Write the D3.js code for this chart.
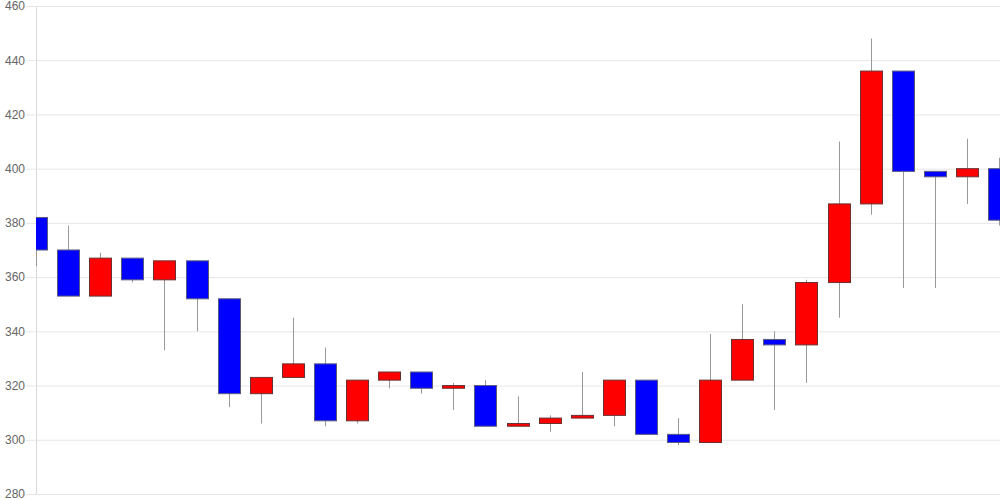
<!DOCTYPE html>
<meta charset="utf-8">
<style>
body { margin: 0; background: white; }
svg { display: block; font-family: "Liberation Sans", Arial, sans-serif; }
</style>
<body>
<script src="https://d3js.org/d3.v7.min.js"></script>
<script>
// daily candles, oldest first
var opens  = [382, 370, 353, 367, 359, 366, 352, 317, 323, 328, 307, 322, 325, 319, 320, 305, 306, 308, 309, 322, 302, 299, 322, 337, 335, 358, 387, 436, 399, 397, 400]
var highs  = [382, 379, 369, 367, 366, 366, 352, 323, 345, 334, 322, 325, 325, 321, 322, 316, 309, 325, 322, 322, 308, 339, 350, 340, 359, 410, 448, 436, 399, 411, 404]
var lows   = [364, 353, 353, 358, 333, 340, 312, 306, 323, 305, 306, 319, 317, 311, 305, 305, 303, 308, 305, 302, 298, 299, 322, 311, 321, 345, 383, 356, 356, 387, 379]
var closes = [370, 353, 367, 359, 366, 352, 317, 323, 328, 307, 322, 325, 319, 320, 305, 306, 308, 309, 322, 302, 299, 322, 337, 335, 358, 387, 436, 399, 397, 400, 381]
var yTicks = [280, 300, 320, 340, 360, 380, 400, 420, 440, 460]

var width = 1000
var height = 500
var plotLeft = 36, plotRight = 1000, plotTop = 6, plotBottom = 494

var candles = opens.map(function (o, i) {
    return { i: i, o: o, h: highs[i], l: lows[i], c: closes[i] }
})

var x = d3.scaleLinear().domain([0, candles.length - 1]).range([plotLeft, plotRight - 1])
var y = d3.scaleLinear().domain([280, 460]).range([plotBottom, plotTop])

var svg = d3.select('body').append('svg')
    .attr('width', width)
    .attr('height', height)

svg.append('defs').append('clipPath').attr('id', 'plot')
    .append('rect')
    .attr('x', plotLeft).attr('y', plotTop)
    .attr('width', plotRight - plotLeft).attr('height', plotBottom - plotTop)

// y axis with gridlines
var yAxis = svg.append('g')
    .attr('transform', 'translate(' + plotLeft + ',0)')
    .call(d3.axisLeft(y).tickValues(yTicks).tickSize(10).tickPadding(1).tickFormat(d3.format('d')))

yAxis.select('.domain').attr('stroke', '#d9d9d9')
yAxis.selectAll('.tick line').attr('stroke', '#e6e6e6')
yAxis.selectAll('.tick text').attr('fill', '#666').style('font-size', '12px')

svg.append('g').selectAll('line')
    .data(yTicks)
    .enter().append('line')
    .attr('x1', plotLeft).attr('x2', plotRight)
    .attr('y1', function (d) { return y(d) + 0.5 })
    .attr('y2', function (d) { return y(d) + 0.5 })
    .attr('stroke', '#e6e6e6')

var plot = svg.append('g').attr('clip-path', 'url(#plot)')

plot.selectAll('.wick')
    .data(candles)
    .enter().append('line')
    .attr('class', 'wick')
    .attr('x1', function (d) { return Math.round(x(d.i)) + 0.5 })
    .attr('x2', function (d) { return Math.round(x(d.i)) + 0.5 })
    .attr('y1', function (d) { return y(d.h) })
    .attr('y2', function (d) { return y(d.l) })
    .attr('stroke', '#999')
    .attr('stroke-width', 1)

var bodyWidth = 22

plot.selectAll('.body')
    .data(candles)
    .enter().append('rect')
    .attr('class', 'body')
    .attr('x', function (d) { return Math.round(x(d.i) - bodyWidth / 2) + 0.5 })
    .attr('y', function (d) { return y(Math.max(d.o, d.c)) })
    .attr('width', bodyWidth)
    .attr('height', function (d) { return Math.max(2, y(Math.min(d.o, d.c)) - y(Math.max(d.o, d.c))) })
    .attr('fill', function (d) { return d.c >= d.o ? '#ff0000' : '#0000ff' })
    .attr('stroke', function (d) { return d.c >= d.o ? '#6b3030' : '#5a5a80' })
    .attr('stroke-width', 1)
</script>
</body>
